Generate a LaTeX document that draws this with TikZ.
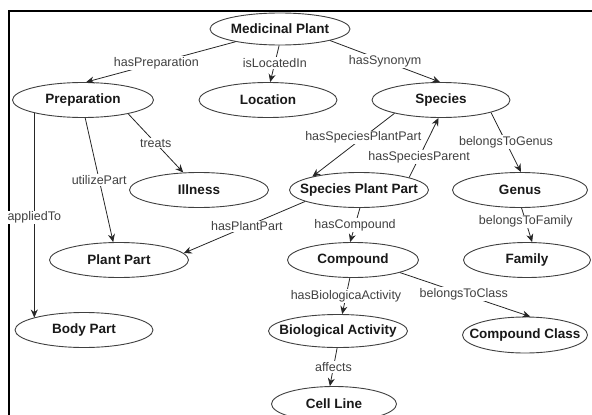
\documentclass[tikz,border=0pt]{standalone}
\usepackage{fontspec}
\setmainfont{Liberation Sans}
\usetikzlibrary{shapes.geometric}
\usetikzlibrary{arrows.meta}
\tikzset{>={Stealth[width=7pt,length=8pt]}}
\tikzset{
  concept/.style={ellipse, draw=black!75, fill=white, line width=0.9pt, minimum width=139pt, minimum height=35pt,
    inner xsep=-16pt, inner ysep=0pt, text=black!90, font=\fontsize{13.5}{16}\selectfont\bfseries},
  rel/.style={fill=white, inner sep=1pt, text=black!75, font=\fontsize{12.5}{15}\selectfont},
  link/.style={draw=black!85, line width=0.8pt}
}

\begin{document}
\begin{tikzpicture}[x=1pt, y=-1pt]
\useasboundingbox (0,0) rectangle (592,415);
\draw [line width=2.6pt] (9,415) -- (9,11) -- (592,11);

\node (MP) [concept, minimum width=140pt, minimum height=32pt] at (280,29) {Medicinal Plant};
\node (Prep) [concept, minimum width=141pt] at (83,100) {Preparation};
\node (Loc) [concept, minimum width=138pt] at (268,100) {Location};
\node (Spec) [concept, minimum width=138pt] at (441,100) {Species};
\node (Ill) [concept] at (199,190) {Illness};
\node (SPP) [concept] at (359,190) {Species Plant Part};
\node (Gen) [concept, minimum width=135pt] at (520,190) {Genus};
\node (PP) [concept] at (119,260) {Plant Part};
\node (Comp) [concept, minimum width=131pt] at (353,260) {Compound};
\node (Fam) [concept, minimum width=127pt] at (527,260) {Family};
\node (BP) [concept, minimum width=138pt] at (84,330) {Body Part};
\node (BA) [concept, minimum height=33pt] at (338,331) {Biological Activity};
\node (CC) [concept, minimum width=125pt, minimum height=36pt] at (525,335) {Compound Class};
\node (CL) [concept, minimum width=125pt] at (334,404) {Cell Line};

\path [link, ->] (MP.196) -- node [rel, pos=0.53] {hasPreparation} (Prep.80);
\path [link, ->] (MP.267) -- node [rel, pos=0.48] {isLocatedIn} (Loc.83);
\path [link, ->] (MP.347) -- node [rel, pos=0.5] {hasSynonym} (Spec.93);
\path [link, ->] (Prep.195) -- node [rel, pos=0.51] {appliedTo} (Prep.195 |- BP.166);
\path [link, ->] (Prep.277) -- node [rel, pos=0.5] {utilizePart} (PP.108);
\path [link, ->] (Prep.343) -- node [rel, pos=0.5] {treats} (Ill.132);
\path [link, ->] (Spec.196) -- node [rel, pos=0.38] {hasSpeciesPlantPart} (SPP.164);
\path [link, ->] (SPP.14) -- node [rel, pos=0.34] {hasSpeciesParent} (Spec.262);
\path [link, ->] (Spec.346) -- node [rel, pos=0.5] {belongsToGenus} (Gen.87);
\path [link, ->] (SPP.192) -- node [rel, pos=0.48] {hasPlantPart} (PP.6);
\path [link, ->] (SPP.273) -- node [rel, pos=0.5] {hasCompound} (Comp.99);
\path [link, ->] (Gen.275) -- node [rel, pos=0.4] {belongsToFamily} (Fam.74);
\path [link, ->] (Comp.260) -- node [rel, pos=0.5] {hasBiologicaActivity} (BA.76);
\path [link, ->] (Comp.345) -- node [rel, pos=0.49] {belongsToClass} (CC.74);
\path [link, ->] (BA.267) -- node [rel, pos=0.5] {affects} (CL.103);
\end{tikzpicture}
\end{document}
